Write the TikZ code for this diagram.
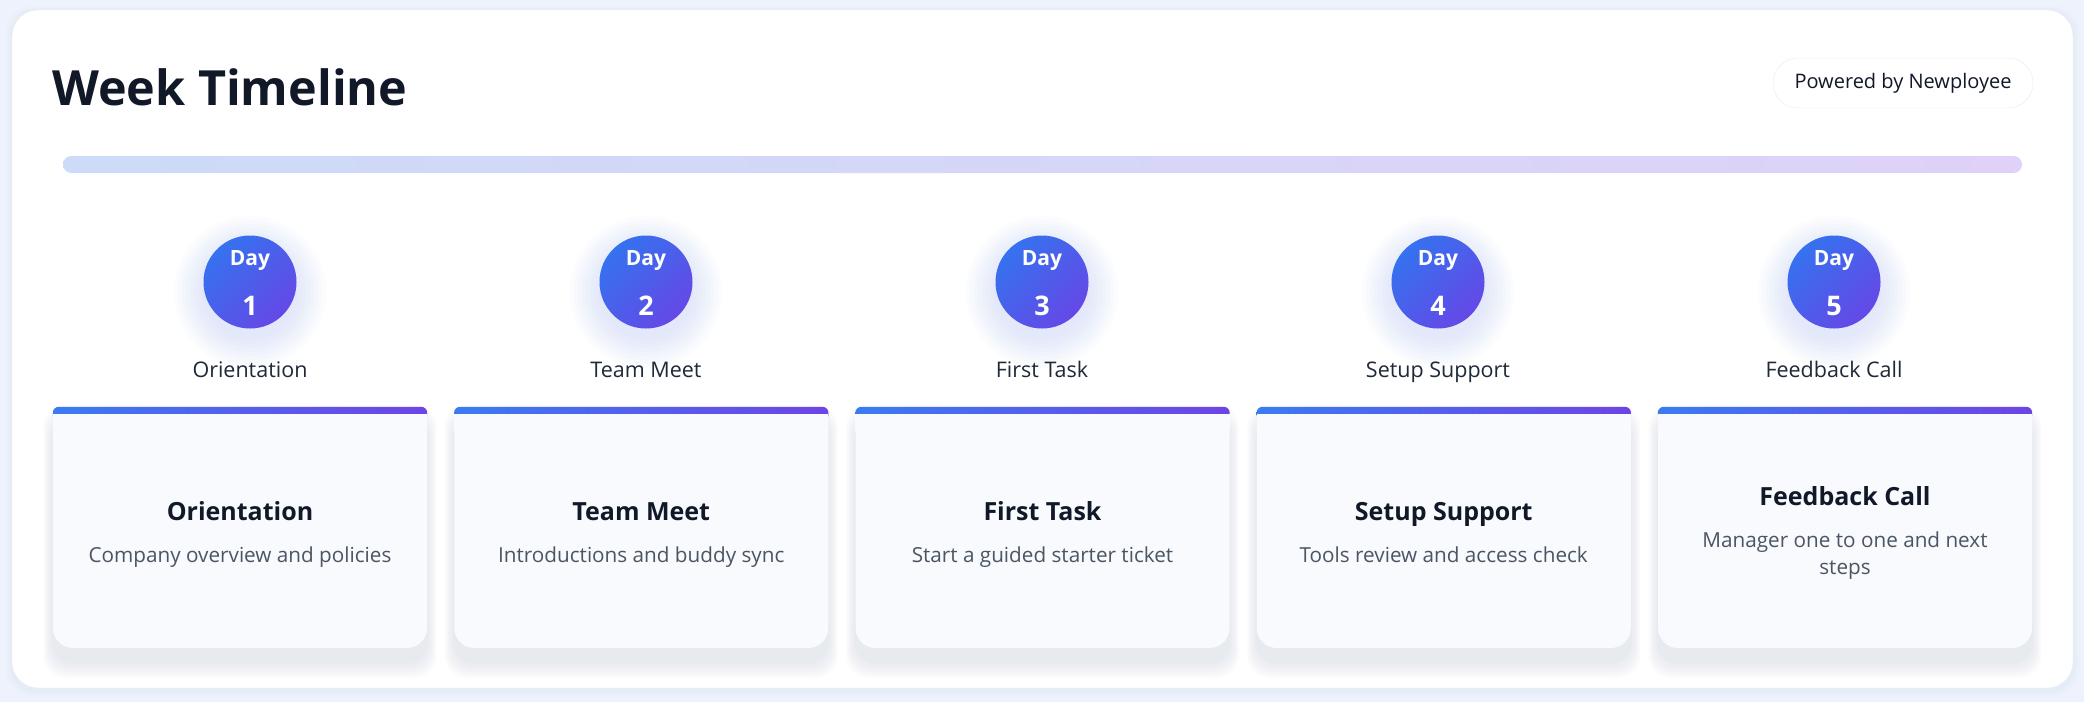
\documentclass[tikz,border=0pt]{standalone}
\usepackage{fontspec}
\setmainfont{Open Sans}
\usetikzlibrary{positioning}

\definecolor{pagebg}{HTML}{EEF2FC}
\definecolor{panelline}{HTML}{E6EBF4}
\definecolor{ink}{HTML}{111827}
\definecolor{labelink}{HTML}{1F2937}
\definecolor{descink}{HTML}{4B5563}
\definecolor{badgeline}{HTML}{E8EBF0}
\definecolor{trackA}{HTML}{CCDBF7}
\definecolor{trackB}{HTML}{DFD1F8}
\definecolor{dayA}{HTML}{3572EF}
\definecolor{dayB}{HTML}{6548E6}
\definecolor{barA}{HTML}{3B7BF0}
\definecolor{barB}{HTML}{6E44E6}
\definecolor{cardbg}{HTML}{F8FAFD}
\definecolor{glow}{HTML}{9DB4FA}
\definecolor{cardshade}{HTML}{64748B}

\begin{document}
\begin{tikzpicture}[x=1pt,y=-1pt,
    panel/.style={rectangle,rounded corners=26pt,draw=panelline,fill=white,minimum width=2061pt,minimum height=678pt,inner sep=0pt},
    badge/.style={rectangle,rounded corners=25pt,draw=badgeline,fill=white,minimum width=260pt,minimum height=50pt,inner sep=0pt,text=ink,font=\fontsize{20}{24}\selectfont},
    track/.style={rectangle,rounded corners=8.5pt,left color=trackA,right color=trackB,minimum width=1959pt,minimum height=17pt,inner sep=0pt},
    daydot/.style={circle,minimum size=93pt,inner sep=0pt,top color=dayA,bottom color=dayB,shading angle=45},
    dayword/.style={anchor=base,inner sep=0pt,text=white,font=\fontsize{21}{24}\selectfont\bfseries},
    daynum/.style={anchor=base,inner sep=0pt,text=white,font=\fontsize{27}{30}\selectfont\bfseries},
    daylabel/.style={anchor=base,inner sep=0pt,text=labelink,font=\fontsize{21.5}{24}\selectfont},
    card/.style={rectangle,rounded corners=20pt,fill=cardbg,minimum width=374pt,minimum height=241pt,inner sep=0pt},
    cardtitle/.style={anchor=base,inner sep=0pt,text=ink,font=\fontsize{25}{30}\selectfont\bfseries},
    carddesc/.style={anchor=base,inner sep=0pt,text=descink,align=center,font=\fontsize{20.7}{26.5}\selectfont}]

  \useasboundingbox (0,0) rectangle (2084,702);
  \fill[pagebg] (0,0) rectangle (2084,702);

  % white panel
  \foreach \s in {2,4,6}
    \fill[cardshade,opacity=0.015,rounded corners=26pt] (12-\s,12-\s) rectangle (2073+\s,690+\s);
  \node[panel] (panel) at (1042.5,349) {};

  \node[anchor=base west,inner sep=0pt,text=ink,font=\fontsize{48.5}{58}\selectfont\bfseries] (title) at (52,105) {Week Timeline};
  \node[badge] (badge) at (1903,83) {Powered by Newployee};
  \node[track] (track) at (1042.5,164.5) {};

  % one column per day
  \foreach \i/\ttl/\dsc/\dy/\ddy in {1/Orientation/Company overview and policies/0/0,
      2/Team Meet/Introductions and buddy sync/0/0,
      3/First Task/Start a guided starter ticket/0/0,
      4/Setup Support/Tools review and access check/0/0,
      5/Feedback Call/{Manager one to one and next\\steps}/-15/12} {
    \pgfmathsetmacro{\dx}{250+396*(\i-1)}
    \pgfmathsetmacro{\cx}{240+401.25*(\i-1)}

    \foreach \r in {48,52,...,76}
      \fill[glow,opacity=0.035] (\dx,292) circle[radius=\r pt];
    \node[daydot] (day\i) at (\dx,282) {};
    \node[dayword] (dayw\i) at (\dx,265) {Day};
    \node[daynum] (dayn\i) at (\dx,315) {\i};
    \node[daylabel] (lbl\i) at (\dx,377) {\ttl};

    \foreach \s in {2,4,...,16}
      \fill[cardshade,opacity=0.015,rounded corners=22pt] (\cx-187-0.6*\s,421-\s) rectangle (\cx+187+0.6*\s,662+\s);
    \node[card] (card\i) at (\cx,527.5) {};
    \shade[left color=barA,right color=barB,rounded corners=6pt] (card\i.north west) rectangle ([yshift=-14pt]card\i.north east);
    \fill[cardbg] ([yshift=-7pt]card\i.north west) rectangle ([yshift=-24pt]card\i.north east);
    \node[cardtitle] (ttl\i) at (\cx,520+\dy) {\ttl};
    \node[carddesc] (dsc\i) at (\cx,562+\ddy) {\dsc};
  }
\end{tikzpicture}
\end{document}
